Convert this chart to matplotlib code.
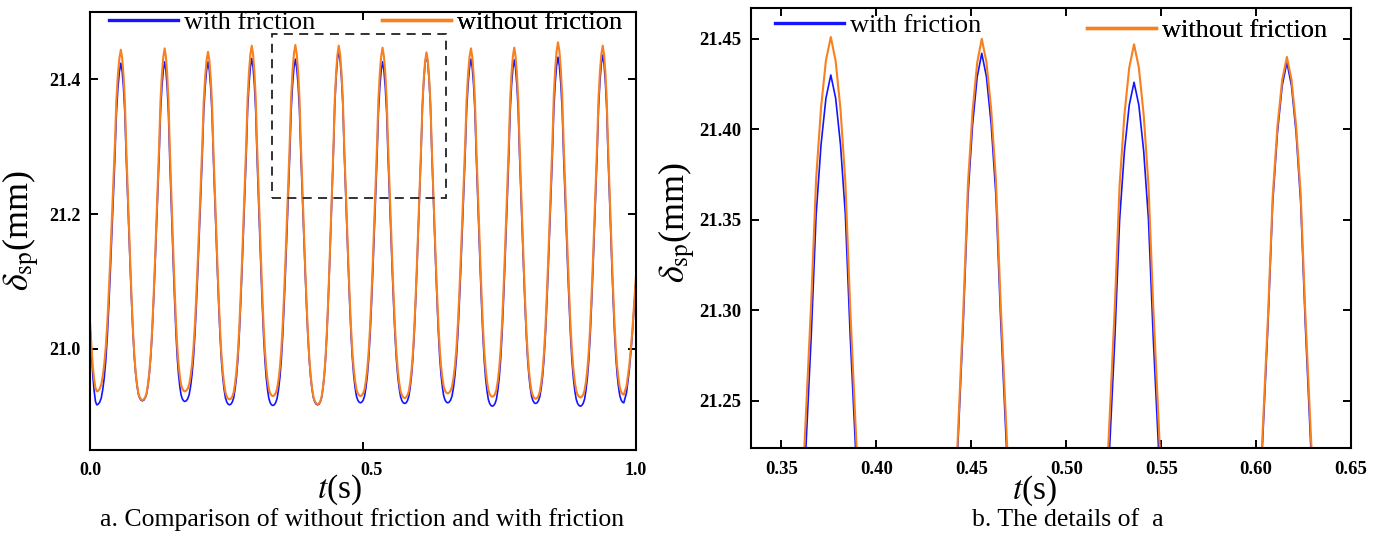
import matplotlib
matplotlib.use("Agg")
import matplotlib.pyplot as plt
import matplotlib.transforms as mtransforms
from matplotlib.patches import Rectangle

plt.rcParams['font.family'] = ['Liberation Serif', 'DejaVu Serif']
plt.rcParams['mathtext.fontset'] = 'stix'

# crest / valley times (s) of the spring deflection signal
peak_t = [0.0565, 0.1367, 0.2161, 0.2962, 0.3760, 0.4555,
          0.5357, 0.6162, 0.6976, 0.7769, 0.8570, 0.9389]
trough_t = [0.0123, 0.0959, 0.1736, 0.2554, 0.3348, 0.4168, 0.4952,
            0.5763, 0.6550, 0.7367, 0.8161, 0.8980, 0.9775]

# crest / valley values (mm)
peak_fric = [21.424, 21.426, 21.426, 21.431, 21.430, 21.442,
             21.426, 21.437, 21.430, 21.429, 21.433, 21.436]
peak_nofric = [21.444, 21.446, 21.441, 21.450, 21.451, 21.450,
               21.447, 21.440, 21.446, 21.447, 21.455, 21.450]
trough_fric = [20.917, 20.923, 20.922, 20.917, 20.916, 20.917, 20.920,
               20.919, 20.920, 20.915, 20.919, 20.915, 20.920]
trough_nofric = [20.937, 20.924, 20.937, 20.925, 20.930, 20.918, 20.930,
                 20.927, 20.934, 20.929, 20.926, 20.928, 20.932]

# flank shape: relative height vs. sample count away from a crest
flank = [1.0, 0.975, 0.925, 0.85, 0.72, 0.61, 0.50, 0.39, 0.29,
         0.20, 0.13, 0.08, 0.045, 0.02, 0.008, 0.002, 0.0]

# start and end of the record
lead_t = [0.0, 0.0025, 0.005, 0.0075, 0.010]
lead_fric = [21.035, 20.995, 20.962, 20.938, 20.922]
lead_nofric = [21.040, 21.005, 20.975, 20.955, 20.942]
tail_t = [0.9825, 0.9875, 0.9925, 0.9975, 1.0]
tail_fric = [20.935, 20.968, 21.015, 21.075, 21.105]
tail_nofric = [20.945, 20.975, 21.020, 21.080, 21.110]

# detail window shown in panel b
zoom_t = [0.334, 0.651]
zoom_d = [21.224, 21.468]


def build(lead, peaks, troughs, tail):
    n = len(flank) - 1
    t, d = list(lead_t), list(lead)
    for i in range(len(peak_t)):
        t0, t1, t2 = trough_t[i], peak_t[i], trough_t[i + 1]
        for k in range(n):
            t.append(t0 + (t1 - t0) * k / n)
            d.append(troughs[i] + (peaks[i] - troughs[i]) * flank[n - k])
        for k in range(n):
            t.append(t1 + (t2 - t1) * k / n)
            d.append(troughs[i + 1] + (peaks[i] - troughs[i + 1]) * flank[k])
    t.append(trough_t[-1])
    d.append(troughs[-1])
    return t + tail_t, d + tail


t_f, d_f = build(lead_fric, peak_fric, trough_fric, tail_fric)
t_n, d_n = build(lead_nofric, peak_nofric, trough_nofric, tail_nofric)

BLUE = '#1414ff'
ORANGE = '#f7801f'

fig = plt.figure(figsize=(13.87, 5.35), dpi=100)
ax1 = fig.add_axes([0.0649, 0.1589, 0.3937, 0.8187])
ax2 = fig.add_axes([0.5415, 0.1626, 0.4326, 0.8224])

for ax in (ax1, ax2):
    l1, = ax.plot(t_f, d_f, color=BLUE, lw=1.2)
    l2, = ax.plot(t_n, d_n, color=ORANGE, lw=1.5)
    for s in ax.spines.values():
        s.set_linewidth(1.5)
    ax.tick_params(direction='in', top=True, right=True, length=6, width=1.4)
    ax.set_xlabel(r'$t$(s)', fontsize=24, va='center')
    ax.set_ylabel(r'$\delta_{\mathrm{sp}}$(mm)', fontsize=26, va='center')

# panel a
ax1.set_xlim(0, 1.0)
ax1.set_ylim(20.85, 21.50)
ax1.set_xticks([0.0, 0.5, 1.0])
ax1.set_xticklabels(['0.0', '0.5', '1.0'])
ax1.set_yticks([21.0, 21.2, 21.4])
ax1.set_yticklabels(['21.0', '21.2', '21.4'])
ax1.tick_params(axis='x', pad=9, labelsize=13)
ax1.tick_params(axis='y', pad=7, labelsize=13)
for lab in ax1.get_xticklabels() + ax1.get_yticklabels():
    lab.set_fontweight('bold')
# nudge the middle label right so it clears the axis title
mid = ax1.get_xticklabels()[1]
mid.set_transform(mid.get_transform() +
                  mtransforms.ScaledTranslation(8 / 100, 0, fig.dpi_scale_trans))
ax1.xaxis.set_label_coords(0.456, -0.091)
ax1.yaxis.set_label_coords(-0.125, 0.502)
ax1.add_patch(Rectangle((zoom_t[0], zoom_d[0]), zoom_t[1] - zoom_t[0],
                        zoom_d[1] - zoom_d[0], fill=False, ec='#222222',
                        lw=1.3, ls=(0, (5, 3.5)), zorder=5))

# panel b
ax2.set_xlim(zoom_t[0], 0.65)
ax2.set_ylim(zoom_d[0], 21.467)
ax2.set_xticks([0.35, 0.40, 0.45, 0.50, 0.55, 0.60, 0.65])
ax2.set_yticks([21.25, 21.30, 21.35, 21.40, 21.45])
ax2.xaxis.set_major_formatter(matplotlib.ticker.FormatStrFormatter('%.2f'))
ax2.yaxis.set_major_formatter(matplotlib.ticker.FormatStrFormatter('%.2f'))
ax2.tick_params(axis='x', pad=9, labelsize=13.5)
ax2.tick_params(axis='y', pad=7, labelsize=13.5)
for lab in ax2.get_xticklabels() + ax2.get_yticklabels():
    lab.set_fontweight('bold')
ax2.xaxis.set_label_coords(0.473, -0.098)
ax2.yaxis.set_label_coords(-0.122, 0.514)

# legends: one entry per box so each can sit where it belongs
leg_kw = dict(frameon=False, loc='center left', borderpad=0, borderaxespad=0,
              handlelength=2.6, handletextpad=0.25, fontsize=19)
for ax, spots in ((ax1, [(0.035, 0.977), (0.535, 0.977)]),
                  (ax2, [(0.040, 0.961), (0.560, 0.950)])):
    lines = ax.get_lines()
    for line, label, pos in zip(lines, ['with friction', 'without friction'], spots):
        h = matplotlib.lines.Line2D([], [], color=line.get_color(), lw=2.4)
        leg = ax.legend([h], [label], bbox_to_anchor=pos, **leg_kw)
        ax.add_artist(leg)

fig.text(362 / 1387, 1 - 520 / 535, 'a. Comparison of without friction and with friction',
         ha='center', va='center', fontsize=18.5)
fig.text(1068 / 1387, 1 - 520 / 535, 'b. The details of  a',
         ha='center', va='center', fontsize=18.5)

fig.savefig('out.png', dpi=100)
